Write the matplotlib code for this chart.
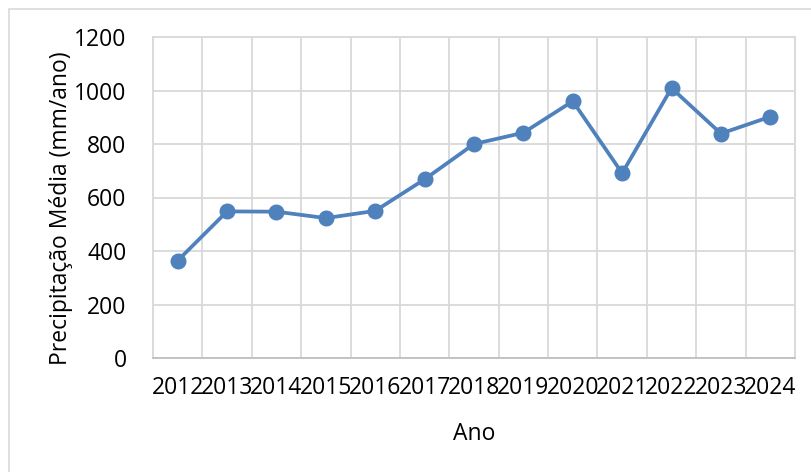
#!/usr/bin/env python3

import matplotlib
matplotlib.use('Agg')
import matplotlib.pyplot as plt
from matplotlib.patches import Rectangle

# Data
anos = ['2012', '2013', '2014', '2015', '2016', '2017', '2018',
        '2019', '2020', '2021', '2022', '2023', '2024']
precipitacao = [364, 548, 547, 523, 550, 668, 800,
                842, 960, 691, 1009, 839, 902]

plt.rcParams['font.family'] = ['Open Sans', 'DejaVu Sans']

fig = plt.figure(figsize=(8.11, 4.72), dpi=100)
ax = fig.add_axes([153 / 811, 1 - 358 / 472, 642 / 811, 321 / 472])

# Outer chart border (Excel style)
fig.patches.append(Rectangle((9 / 811, -0.1), 1.2, (472 - 9) / 472 + 0.1,
                             transform=fig.transFigure, fill=False,
                             edgecolor='#d9d9d9', linewidth=1.2))

x = range(len(anos))
ax.plot(x, precipitacao, color='#4f81bd', linewidth=2.7,
        marker='o', markersize=10.5, zorder=3)

# Categories sit between gridlines
ax.set_xlim(-0.5, len(anos) - 0.5)
ax.set_ylim(0, 1200)
ax.set_yticks(range(0, 1201, 200))
ax.set_xticks(x)
ax.set_xticklabels(anos)
ax.set_xticks([i - 0.5 for i in range(len(anos) + 1)], minor=True)

ax.grid(True, axis='y', which='major', color='#d9d9d9', linewidth=1.3)
ax.grid(True, axis='x', which='minor', color='#d9d9d9', linewidth=1.3)
ax.set_axisbelow(True)

for side in ['left', 'top', 'right']:
    ax.spines[side].set_color('#d9d9d9')
    ax.spines[side].set_linewidth(1.3)
ax.spines['bottom'].set_color('#bfbfbf')
ax.spines['bottom'].set_linewidth(1.3)

ax.tick_params(axis='both', which='both', length=0, labelsize=16.5,
               labelcolor='#000000')
ax.tick_params(axis='y', pad=19)
ax.tick_params(axis='x', pad=13)

ax.set_xlabel('Ano', fontsize=16.5, labelpad=16)
ax.set_ylabel('Precipitação Média (mm/ano)', fontsize=16.5)
ax.yaxis.set_label_coords(-0.125, 0.467)

fig.savefig('out.png', dpi=100)
